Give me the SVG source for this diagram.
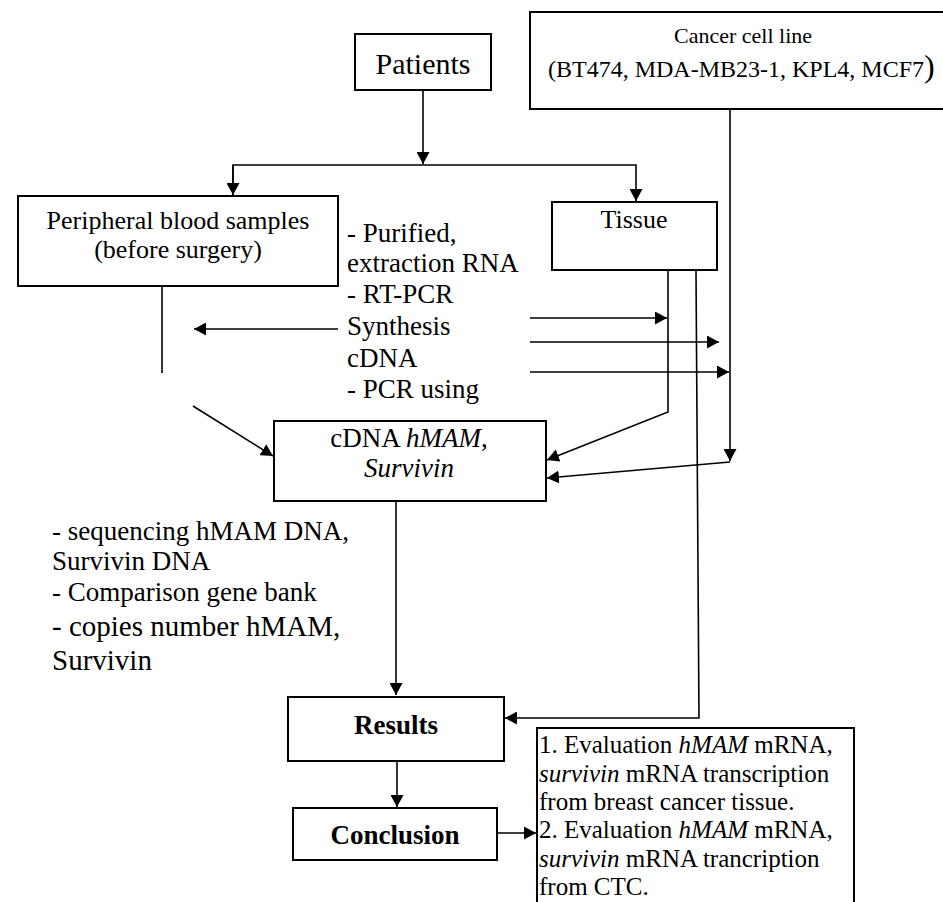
<svg xmlns="http://www.w3.org/2000/svg" width="943" height="902" viewBox="0 0 943 902">
<style>
text{font-family:"Liberation Serif","Times New Roman",serif;fill:#000}
.box{fill:#fff;stroke:#000;stroke-width:2}
.c{stroke:#000;stroke-width:1.6;fill:none}
.mid{text-anchor:middle}
.b{font-weight:bold}
.i{font-style:italic}
</style>
<defs>
<marker id="ah" markerUnits="userSpaceOnUse" markerWidth="13" markerHeight="13" refX="12" refY="6.5" orient="auto">
<path d="M0,0 L12,6.5 L0,13 z" fill="#000"/>
</marker>
</defs>
<rect width="943" height="902" fill="#fff"/>

<g id="connectors">
<path class="c" d="M423,90 V164" marker-end="url(#ah)"/>
<path class="c" d="M233,196 V165 H636 V201" marker-end="url(#ah)"/>
<path class="c" d="M233,165 V195" marker-end="url(#ah)"/>
<path class="c" d="M162,287 V373"/>
<path class="c" d="M338,329 H194" marker-end="url(#ah)"/>
<path class="c" d="M193,406 L273,456" marker-end="url(#ah)"/>
<path class="c" d="M530,318 H667" marker-end="url(#ah)"/>
<path class="c" d="M530,342 H719" marker-end="url(#ah)"/>
<path class="c" d="M530,372 H729" marker-end="url(#ah)"/>
<path class="c" d="M668,271 V412 L547,460" marker-end="url(#ah)"/>
<path class="c" d="M730,109 V461" marker-end="url(#ah)"/>
<path class="c" d="M730,462 L547,478" marker-end="url(#ah)"/>
<path class="c" d="M696,271 L699,718 H505" marker-end="url(#ah)"/>
<path class="c" d="M396,502 V695" marker-end="url(#ah)"/>
<path class="c" d="M397,762 V807" marker-end="url(#ah)"/>
<path class="c" d="M497,833 H536" marker-end="url(#ah)"/>
</g>

<g id="cancer">
<rect class="box" x="530" y="12" width="430" height="97"/>
<text class="mid" x="743" y="43" font-size="22">Cancer cell line</text>
<text x="548" y="77" font-size="24">(BT474, MDA-MB23-1, KPL4, MCF7<tspan font-size="32">)</tspan></text>
</g>

<g id="patients">
<rect class="box" x="355" y="34" width="136" height="56"/>
<text class="mid" x="423" y="74" font-size="30">Patients</text>
</g>

<g id="blood">
<rect class="box" x="18" y="196" width="320" height="90"/>
<text class="mid" x="178" y="229" font-size="26">Peripheral blood samples</text>
<text class="mid" x="178" y="258" font-size="26">(before surgery)</text>
</g>

<g id="tissue">
<rect class="box" x="552" y="202" width="165" height="68"/>
<text class="mid" x="634" y="228" font-size="26">Tissue</text>
</g>

<g id="process-text">
<text x="347" y="242" font-size="27">- Purified,</text>
<text x="347" y="272" font-size="27">extraction RNA</text>
<text x="347" y="303" font-size="27">- RT-PCR</text>
<text x="347" y="335" font-size="27">Synthesis</text>
<text x="347" y="367" font-size="27">cDNA</text>
<text x="347" y="398" font-size="27">- PCR using</text>
</g>

<g id="cdna">
<rect class="box" x="274" y="421" width="272" height="80"/>
<text class="mid" x="409" y="447" font-size="27">cDNA <tspan class="i">hMAM</tspan>,</text>
<text class="mid i" x="409" y="477" font-size="27">Survivin</text>
</g>

<g id="analysis-text">
<text x="52" y="540" font-size="27">- sequencing hMAM DNA,</text>
<text x="52" y="570" font-size="27">Survivin DNA</text>
<text x="52" y="601" font-size="27">- Comparison gene bank</text>
<text x="52" y="636" font-size="29">- copies number hMAM,</text>
<text x="52" y="670" font-size="29">Survivin</text>
</g>

<g id="results">
<rect class="box" x="288" y="697" width="216" height="64"/>
<text class="mid b" x="396" y="734" font-size="27">Results</text>
</g>

<g id="conclusion">
<rect class="box" x="293" y="808" width="204" height="52"/>
<text class="mid b" x="395" y="844" font-size="27">Conclusion</text>
</g>

<g id="findings">
<rect class="box" x="537" y="728" width="317" height="200"/>
<text x="539" y="753" font-size="25">1. Evaluation <tspan class="i">hMAM</tspan> mRNA,</text>
<text x="539" y="782" font-size="25"><tspan class="i">survivin</tspan> mRNA transcription</text>
<text x="539" y="810" font-size="25">from breast cancer tissue.</text>
<text x="539" y="838" font-size="25">2. Evaluation <tspan class="i">hMAM</tspan> mRNA,</text>
<text x="539" y="867" font-size="25"><tspan class="i">survivin</tspan> mRNA trancription</text>
<text x="539" y="895" font-size="25">from CTC.</text>
</g>
</svg>
